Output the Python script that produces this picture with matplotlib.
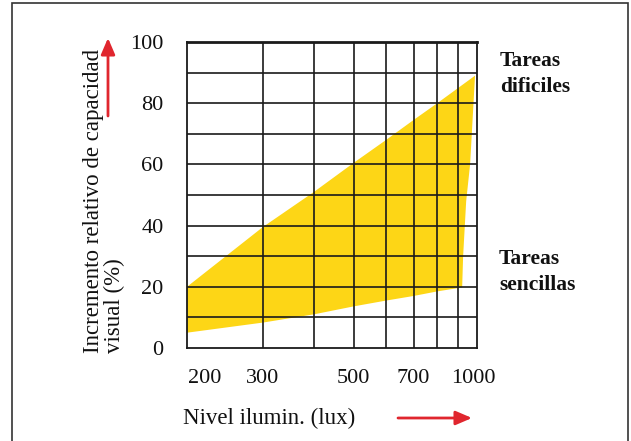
import matplotlib
matplotlib.use("Agg")
import matplotlib.pyplot as plt
from matplotlib.patches import Rectangle, FancyArrowPatch

plt.rcParams["font.family"] = ["Liberation Serif", "DejaVu Serif"]

# yellow band (lux, % increase)
# upper edge (difficult tasks), left to right
upper_lux = [196, 300, 400, 500, 600, 700, 800, 900, 989]
upper_val = [20, 39.5, 51, 60.5, 68, 74.5, 80, 85, 89]
# steep right edge, top to bottom
edge_lux = [962, 941, 925]
edge_val = [60, 48, 30]
# lower edge (easy tasks), right to left
lower_lux = [920, 800, 700, 600, 500, 400, 300, 196]
lower_val = [19.8, 18.5, 17, 15.5, 13.6, 11, 8.3, 5]

ytick_vals = [0, 20, 40, 60, 80, 100]
xtick_labels = ["200", "300", "500", "700", "1000"]
grid_lux = [300, 400, 500, 600, 700, 800, 900]
grid_val = [10, 20, 30, 40, 50, 60, 70, 80, 90]

W, H = 631, 441
fig = plt.figure(figsize=(W / 100, H / 100), dpi=100)
ax = fig.add_axes([187 / W, 1 - 348 / H, (477 - 187) / W, (348 - 42) / H])

band_x = upper_lux + edge_lux + lower_lux
band_y = upper_val + edge_val + lower_val
ax.fill(band_x, band_y, color="#fdd616", lw=0, zorder=1)

for v in grid_lux:
    ax.axvline(v, color="#1a1a1a", lw=1.2, zorder=2)
for v in grid_val:
    ax.axhline(v, color="#1a1a1a", lw=1.2, zorder=2)

ax.set_xscale("log")
ax.set_xlim(196, 1000)
ax.set_ylim(0, 100)

ax.set_xticks([216, 300, 500, 700, 980])
ax.set_xticklabels(xtick_labels)
ax.xaxis.set_minor_locator(matplotlib.ticker.NullLocator())
ax.set_yticks(ytick_vals)

ax.tick_params(which="both", length=0, labelsize=16, colors="#111")
ax.tick_params(axis="y", pad=17)
ax.tick_params(axis="x", pad=15)
for side, sp in ax.spines.items():
    sp.set_color("#1a1a1a")
    sp.set_linewidth(1.3)
    sp.set_zorder(3)
ax.spines["top"].set_linewidth(2.0)

fig.text(104 / W, 1 - 353 / H, "Incremento relativo de capacidad\nvisual (%)",
         rotation=90, ha="center", va="bottom", multialignment="left",
         fontsize=16.5, color="#111", linespacing=1.05)
fig.text(183 / W, 1 - 418 / H, "Nivel ilumin. (lux)", ha="left", va="center",
         fontsize=16.5, color="#111")

fig.text(500 / W, 1 - 74 / H, "Tareas\ndificiles", ha="left", va="center",
         fontsize=15.5, fontweight="bold", color="#111", linespacing=1.4)
fig.text(499 / W, 1 - 272 / H, "Tareas\nsencillas", ha="left", va="center",
         fontsize=15.5, fontweight="bold", color="#111", linespacing=1.4)

arrow = dict(arrowstyle="-|>,head_length=0.7,head_width=0.3", color="#e0262e",
             lw=2, mutation_scale=14, shrinkA=0, shrinkB=0)
fig.add_artist(FancyArrowPatch((108 / W, 1 - 116 / H), (108 / W, 1 - 38 / H),
                               transform=fig.transFigure, **arrow))
fig.add_artist(FancyArrowPatch((398 / W, 1 - 418 / H), (472 / W, 1 - 418 / H),
                               transform=fig.transFigure, **arrow))

fig.add_artist(Rectangle((12 / W, -0.05), (628 - 12) / W, (H - 3) / H + 0.05,
                         transform=fig.transFigure, fill=False,
                         ec="#333", lw=1.2))

fig.savefig("out.png", dpi=100)
